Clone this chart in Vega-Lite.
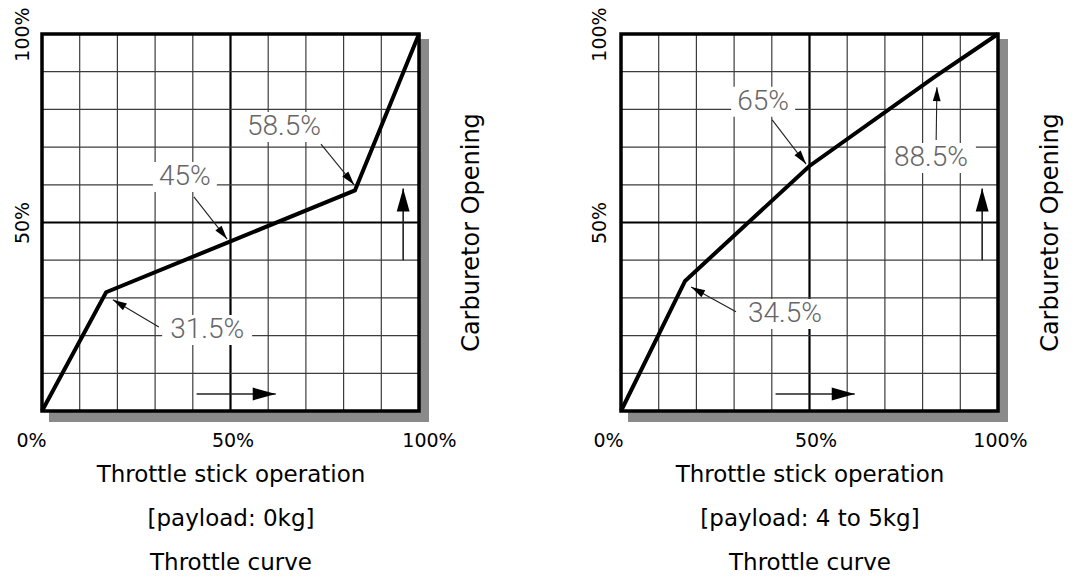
{
  "$schema": "https://vega.github.io/schema/vega-lite/v6.json",
  "background": "white",
  "padding": {"left": 12, "top": 6, "right": 5, "bottom": 5},
  "spacing": 202,
  "bounds": "flush",
  "config": {
    "view": {"stroke": null},
    "font": "DejaVu Sans",
    "axis": {"labelColor": "black", "titleColor": "black", "titleFontWeight": "normal", "labelFont": "DejaVu Sans", "titleFont": "DejaVu Sans"}
  },
  "datasets": {
    "frame": [{"lo": 0, "hi": 100}],
    "grid": [{"v": 10}, {"v": 20}, {"v": 30}, {"v": 40}, {"v": 50}, {"v": 60}, {"v": 70}, {"v": 80}, {"v": 90}],
    "curveA": [{"stick": 0, "open": 0}, {"stick": 17, "open": 31.5}, {"stick": 50, "open": 45}, {"stick": 83, "open": 58.5}, {"stick": 100, "open": 100}],
    "curveB": [{"stick": 0, "open": 0}, {"stick": 17, "open": 34.5}, {"stick": 50, "open": 65}, {"stick": 83, "open": 88.5}, {"stick": 100, "open": 100}],
    "notesA": [{"label": "31.5%", "tx": 43.8, "ty": 21.5}, {"label": "45%", "tx": 37.9, "ty": 62.1}, {"label": "58.5%", "tx": 64.2, "ty": 75.3}],
    "notesB": [{"label": "34.5%", "tx": 43.5, "ty": 25.7}, {"label": "65%", "tx": 37.7, "ty": 82}, {"label": "88.5%", "tx": 82.2, "ty": 67.1}],
    "arrowsA": [
      {"kind": "pointer", "sx": 31.0, "sy": 22.3, "px": 18.8, "py": 29.5},
      {"kind": "pointer", "sx": 40.3, "sy": 56.8, "px": 49.1, "py": 45.6},
      {"kind": "pointer", "sx": 74.0, "sy": 70.8, "px": 82.8, "py": 60.0},
      {"kind": "dir", "sx": 41, "sy": 4.5, "px": 62, "py": 4.5},
      {"kind": "dir", "sx": 95.8, "sy": 40, "px": 95.8, "py": 59}
    ],
    "arrowsB": [
      {"kind": "pointer", "sx": 30.5, "sy": 26.3, "px": 18.6, "py": 32.9},
      {"kind": "pointer", "sx": 40.1, "sy": 77.2, "px": 49.1, "py": 65.5},
      {"kind": "pointer", "sx": 83.6, "sy": 71.9, "px": 83.8, "py": 85.9},
      {"kind": "dir", "sx": 41, "sy": 4.5, "px": 62, "py": 4.5},
      {"kind": "dir", "sx": 95.8, "sy": 40, "px": 95.8, "py": 59}
    ]
  },
  "hconcat": [
    {
      "width": 377, "height": 377,
      "resolve": {"axis": {"x": "independent", "y": "independent"}},
      "layer": [
        {"data": {"name": "frame"}, "mark": {"type": "rect", "fill": "#8a8a8a", "xOffset": 7, "x2Offset": 10, "yOffset": 11, "y2Offset": 5},
         "encoding": {
           "x": {"field": "lo", "type": "quantitative", "scale": {"domain": [0, 100], "nice": false, "zero": false},
                 "axis": {"values": [0, 50, 100], "labelExpr": "datum.value + '%'", "ticks": false, "domain": false, "grid": false, "labelFontSize": 19, "labelPadding": 20, "labelFlush": false,
                          "labelOffset": {"condition": [{"test": "datum.value === 0", "value": -11}, {"test": "datum.value === 100", "value": 10}], "value": 2},
                          "title": ["Throttle stick operation", "[payload: 0kg]", "Throttle curve"], "titleFontSize": 23, "titleLineHeight": 44, "titlePadding": 13}},
           "x2": {"field": "hi"},
           "y": {"field": "lo", "type": "quantitative", "scale": {"domain": [0, 100], "nice": false, "zero": false},
                 "axis": {"orient": "left", "values": [50, 100], "labelExpr": "datum.value + '%'", "labelAngle": 270, "ticks": false, "domain": false, "grid": false, "labelFontSize": 19, "labelPadding": 10, "title": null}},
           "y2": {"field": "hi"}
         }},
        {"data": {"name": "frame"}, "mark": {"type": "rect", "fill": "white"},
         "encoding": {"x": {"field": "lo", "type": "quantitative", "axis": null}, "x2": {"field": "hi"},
                      "y": {"field": "lo", "type": "quantitative",
                            "axis": {"orient": "right", "labels": false, "ticks": false, "domain": false, "grid": false, "title": "Carburetor Opening", "titleAngle": 270, "titleFontSize": 24, "titlePadding": 40, "titleBaseline": "top", "titleY": 198}},
                      "y2": {"field": "hi"}}},
        {"data": {"name": "grid"}, "mark": {"type": "rule"},
         "encoding": {"x": {"field": "v", "type": "quantitative", "axis": null}, "y": {"datum": 0, "type": "quantitative", "axis": null}, "y2": {"datum": 100},
                      "color": {"condition": {"test": "datum.v === 50", "value": "black"}, "value": "#3c3c3c"},
                      "strokeWidth": {"condition": {"test": "datum.v === 50", "value": 2.2}, "value": 1.2}}},
        {"data": {"name": "grid"}, "mark": {"type": "rule"},
         "encoding": {"y": {"field": "v", "type": "quantitative", "axis": null}, "x": {"datum": 0, "type": "quantitative", "axis": null}, "x2": {"datum": 100},
                      "color": {"condition": {"test": "datum.v === 50", "value": "black"}, "value": "#3c3c3c"},
                      "strokeWidth": {"condition": {"test": "datum.v === 50", "value": 2.2}, "value": 1.2}}},
        {"data": {"name": "frame"}, "mark": {"type": "rect", "fill": null, "stroke": "black", "strokeWidth": 3.5},
         "encoding": {"x": {"field": "lo", "type": "quantitative", "axis": null}, "x2": {"field": "hi"},
                      "y": {"field": "lo", "type": "quantitative", "axis": null}, "y2": {"field": "hi"}}},
        {"data": {"name": "curveA"}, "mark": {"type": "line", "color": "black", "strokeWidth": 4},
         "encoding": {"x": {"field": "stick", "type": "quantitative", "axis": null}, "y": {"field": "open", "type": "quantitative", "axis": null}}},
        {"data": {"name": "notesA"}, "transform": [{"filter": "length(datum.label) > 3"}], "mark": {"type": "rect", "fill": "white", "width": 90, "height": 30},
         "encoding": {"x": {"field": "tx", "type": "quantitative", "axis": null}, "y": {"field": "ty", "type": "quantitative", "axis": null}}},
        {"data": {"name": "notesA"}, "transform": [{"filter": "length(datum.label) <= 3"}], "mark": {"type": "rect", "fill": "white", "width": 64, "height": 30},
         "encoding": {"x": {"field": "tx", "type": "quantitative", "axis": null}, "y": {"field": "ty", "type": "quantitative", "axis": null}}},
        {"data": {"name": "notesA"}, "mark": {"type": "text", "font": "Roboto", "fontWeight": 300, "fontSize": 28, "color": "#666666", "align": "center", "baseline": "middle"},
         "encoding": {"x": {"field": "tx", "type": "quantitative", "axis": null}, "y": {"field": "ty", "type": "quantitative", "axis": null}, "text": {"field": "label"}}},
        {"data": {"name": "arrowsA"}, "mark": {"type": "rule", "color": "#222222"},
         "encoding": {"x": {"field": "sx", "type": "quantitative", "axis": null}, "y": {"field": "sy", "type": "quantitative", "axis": null},
                      "x2": {"field": "px"}, "y2": {"field": "py"},
                      "strokeWidth": {"condition": {"test": "datum.kind === 'dir'", "value": 1.6}, "value": 1.1}}},
        {"data": {"name": "arrowsA"}, "transform": [{"calculate": "atan2(datum.px - datum.sx, datum.py - datum.sy) * 180 / PI", "as": "ang"}],
         "mark": {"type": "point", "shape": "M0,0L0.28,1L-0.28,1Z", "filled": true, "color": "black", "opacity": 1, "strokeWidth": 0},
         "encoding": {"x": {"field": "px", "type": "quantitative", "axis": null}, "y": {"field": "py", "type": "quantitative", "axis": null},
                      "angle": {"field": "ang", "type": "quantitative", "scale": null},
                      "size": {"condition": {"test": "datum.kind === 'dir'", "value": 2116}, "value": 784}}}
      ]
    },
    {
      "width": 377, "height": 377,
      "resolve": {"axis": {"x": "independent", "y": "independent"}},
      "layer": [
        {"data": {"name": "frame"}, "mark": {"type": "rect", "fill": "#8a8a8a", "xOffset": 7, "x2Offset": 10, "yOffset": 11, "y2Offset": 5},
         "encoding": {
           "x": {"field": "lo", "type": "quantitative", "scale": {"domain": [0, 100], "nice": false, "zero": false},
                 "axis": {"values": [0, 50, 100], "labelExpr": "datum.value + '%'", "ticks": false, "domain": false, "grid": false, "labelFontSize": 19, "labelPadding": 20, "labelFlush": false,
                          "labelOffset": {"condition": [{"test": "datum.value === 0", "value": -13}, {"test": "datum.value === 100", "value": 2}], "value": 6},
                          "title": ["Throttle stick operation", "[payload: 4 to 5kg]", "Throttle curve"], "titleFontSize": 23, "titleLineHeight": 44, "titlePadding": 13}},
           "x2": {"field": "hi"},
           "y": {"field": "lo", "type": "quantitative", "scale": {"domain": [0, 100], "nice": false, "zero": false},
                 "axis": {"orient": "left", "values": [50, 100], "labelExpr": "datum.value + '%'", "labelAngle": 270, "ticks": false, "domain": false, "grid": false, "labelFontSize": 19, "labelPadding": 12, "title": null}},
           "y2": {"field": "hi"}
         }},
        {"data": {"name": "frame"}, "mark": {"type": "rect", "fill": "white"},
         "encoding": {"x": {"field": "lo", "type": "quantitative", "axis": null}, "x2": {"field": "hi"},
                      "y": {"field": "lo", "type": "quantitative",
                            "axis": {"orient": "right", "labels": false, "ticks": false, "domain": false, "grid": false, "title": "Carburetor Opening", "titleAngle": 270, "titleFontSize": 24, "titlePadding": 40, "titleBaseline": "top", "titleY": 198}},
                      "y2": {"field": "hi"}}},
        {"data": {"name": "grid"}, "mark": {"type": "rule"},
         "encoding": {"x": {"field": "v", "type": "quantitative", "axis": null}, "y": {"datum": 0, "type": "quantitative", "axis": null}, "y2": {"datum": 100},
                      "color": {"condition": {"test": "datum.v === 50", "value": "black"}, "value": "#3c3c3c"},
                      "strokeWidth": {"condition": {"test": "datum.v === 50", "value": 2.2}, "value": 1.2}}},
        {"data": {"name": "grid"}, "mark": {"type": "rule"},
         "encoding": {"y": {"field": "v", "type": "quantitative", "axis": null}, "x": {"datum": 0, "type": "quantitative", "axis": null}, "x2": {"datum": 100},
                      "color": {"condition": {"test": "datum.v === 50", "value": "black"}, "value": "#3c3c3c"},
                      "strokeWidth": {"condition": {"test": "datum.v === 50", "value": 2.2}, "value": 1.2}}},
        {"data": {"name": "frame"}, "mark": {"type": "rect", "fill": null, "stroke": "black", "strokeWidth": 3.5},
         "encoding": {"x": {"field": "lo", "type": "quantitative", "axis": null}, "x2": {"field": "hi"},
                      "y": {"field": "lo", "type": "quantitative", "axis": null}, "y2": {"field": "hi"}}},
        {"data": {"name": "curveB"}, "mark": {"type": "line", "color": "black", "strokeWidth": 4},
         "encoding": {"x": {"field": "stick", "type": "quantitative", "axis": null}, "y": {"field": "open", "type": "quantitative", "axis": null}}},
        {"data": {"name": "notesB"}, "transform": [{"filter": "length(datum.label) > 3"}], "mark": {"type": "rect", "fill": "white", "width": 90, "height": 30},
         "encoding": {"x": {"field": "tx", "type": "quantitative", "axis": null}, "y": {"field": "ty", "type": "quantitative", "axis": null}}},
        {"data": {"name": "notesB"}, "transform": [{"filter": "length(datum.label) <= 3"}], "mark": {"type": "rect", "fill": "white", "width": 64, "height": 30},
         "encoding": {"x": {"field": "tx", "type": "quantitative", "axis": null}, "y": {"field": "ty", "type": "quantitative", "axis": null}}},
        {"data": {"name": "notesB"}, "mark": {"type": "text", "font": "Roboto", "fontWeight": 300, "fontSize": 28, "color": "#666666", "align": "center", "baseline": "middle"},
         "encoding": {"x": {"field": "tx", "type": "quantitative", "axis": null}, "y": {"field": "ty", "type": "quantitative", "axis": null}, "text": {"field": "label"}}},
        {"data": {"name": "arrowsB"}, "mark": {"type": "rule", "color": "#222222"},
         "encoding": {"x": {"field": "sx", "type": "quantitative", "axis": null}, "y": {"field": "sy", "type": "quantitative", "axis": null},
                      "x2": {"field": "px"}, "y2": {"field": "py"},
                      "strokeWidth": {"condition": {"test": "datum.kind === 'dir'", "value": 1.6}, "value": 1.1}}},
        {"data": {"name": "arrowsB"}, "transform": [{"calculate": "atan2(datum.px - datum.sx, datum.py - datum.sy) * 180 / PI", "as": "ang"}],
         "mark": {"type": "point", "shape": "M0,0L0.28,1L-0.28,1Z", "filled": true, "color": "black", "opacity": 1, "strokeWidth": 0},
         "encoding": {"x": {"field": "px", "type": "quantitative", "axis": null}, "y": {"field": "py", "type": "quantitative", "axis": null},
                      "angle": {"field": "ang", "type": "quantitative", "scale": null},
                      "size": {"condition": {"test": "datum.kind === 'dir'", "value": 2116}, "value": 784}}}
      ]
    }
  ]
}
